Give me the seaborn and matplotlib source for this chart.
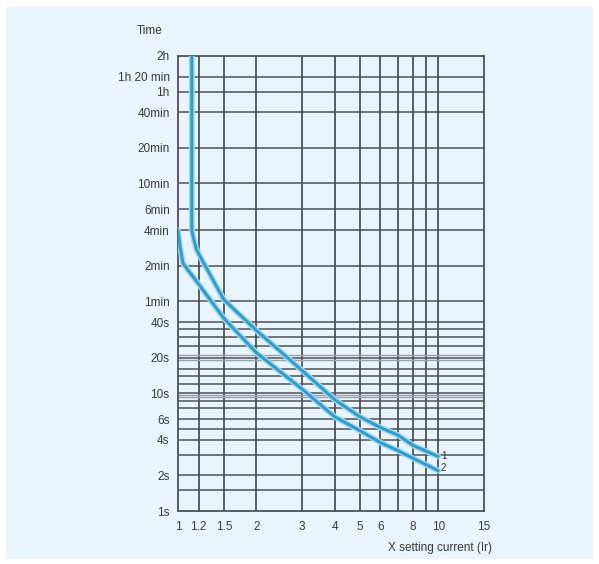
import numpy as np
import pandas as pd
import seaborn as sns
import matplotlib.pyplot as plt
from matplotlib.patches import Rectangle

# curve 1 (upper) and curve 2 (lower): current multiple vs trip time in seconds
c1_x = [1.13, 1.13, 1.15, 1.18, 1.3, 1.5, 2, 3, 4, 5, 6, 7, 8, 10]
c1_t = [7200, 240, 200, 163, 110, 62, 34, 15.5, 8.8, 6.3, 5.1, 4.4, 3.6, 2.9]
c2_x = [1.0, 1.02, 1.045, 1.1, 1.2, 1.5, 2, 3, 4, 5, 6, 7, 8, 10]
c2_t = [240, 170, 126, 108, 84, 43, 22, 10.8, 6.3, 4.8, 3.8, 3.25, 2.8, 2.2]

x_ticks = [1, 1.2, 1.5, 2, 3, 4, 5, 6, 8, 10, 15]
x_grid = [1.2, 1.5, 2, 3, 4, 5, 6, 7, 8, 9, 10]
y_ticks = [1, 2, 4, 6, 10, 20, 40, 60, 120, 240, 360, 600, 1200, 2400, 3600, 4800, 7200]
y_labels = ['1s', '2s', '4s', '6s', '10s', '20s', '40s', '1min', '2min', '4min',
            '6min', '10min', '20min', '40min', '1h', '1h 20 min', '2h']
y_minor = [1.5, 3, 5, 7.5, 8.5, 12, 14, 16, 25, 30, 35]
y_light = [9.2, 9.7, 19, 21]

sns.set_style("white")
plt.rcParams['font.family'] = ['Liberation Sans Narrow', 'Liberation Sans', 'DejaVu Sans']

bg = '#eaf4fc'
grid_c = '#4d5257'
curve_c = '#2a9fd2'

fig = plt.figure(figsize=(5.99, 5.64), dpi=100)
fig.patch.set_facecolor('white')
fig.patches.append(Rectangle((6 / 599, 5 / 564), 587 / 599, 552 / 564,
                             transform=fig.transFigure, facecolor=bg,
                             edgecolor='none', zorder=-1))

ax = fig.add_axes([178 / 599, 53 / 564, 306 / 599, 455 / 564])
ax.set_facecolor(bg)
ax.set_xscale('log')
ax.set_yscale('log')
ax.set_xlim(1, 15)
ax.set_ylim(1, 7200)

for v in x_grid:
    ax.axvline(v, color=grid_c, lw=1.3, zorder=1)
for v in y_ticks[1:-1] + y_minor:
    ax.axhline(v, color=grid_c, lw=1.1, zorder=1)
for v in y_light:
    ax.axhline(v, color='#9aa0a6', lw=1.0, zorder=1)

df1 = pd.DataFrame({'x': c1_x, 't': c1_t})
df2 = pd.DataFrame({'x': c2_x, 't': c2_t})
for d in (df1, df2):
    sns.lineplot(data=d, x='x', y='t', sort=False, estimator=None, ax=ax,
                 color='#a6d9ef', lw=4.2, zorder=3)
    sns.lineplot(data=d, x='x', y='t', sort=False, estimator=None, ax=ax,
                 color=curve_c, lw=2.2, zorder=4)

ax.text(10.25, 2.95, '1', fontsize=7, color='#333333', va='center')
ax.text(10.25, 2.3, '2', fontsize=7, color='#333333', va='center')

ax.set_xticks(x_ticks)
ax.set_xticklabels(['1', '1.2', '1.5', '2', '3', '4', '5', '6', '8', '10', '15'])
ax.set_xticks([], minor=True)
ax.set_yticks(y_ticks)
ax.set_yticklabels(y_labels)
ax.set_yticks([], minor=True)
ax.tick_params(axis='both', which='major', length=4, width=1, color=grid_c,
               labelsize=8.5, labelcolor='#3a3a3a', direction='out', pad=2)
ax.tick_params(axis='x', pad=3)
for s in ax.spines.values():
    s.set_color(grid_c)
    s.set_linewidth(1.3)

ax.set_xlabel('')
ax.set_ylabel('')
fig.text(150 / 599, 1 - 31 / 564, 'Time', fontsize=8.5, color='#3a3a3a',
         ha='center', va='center')
fig.text(492 / 599, 1 - 548 / 564, 'X setting current (Ir)', fontsize=8.5,
         color='#3a3a3a', ha='right', va='center')

fig.savefig('out.png', dpi=100, facecolor=fig.get_facecolor())
